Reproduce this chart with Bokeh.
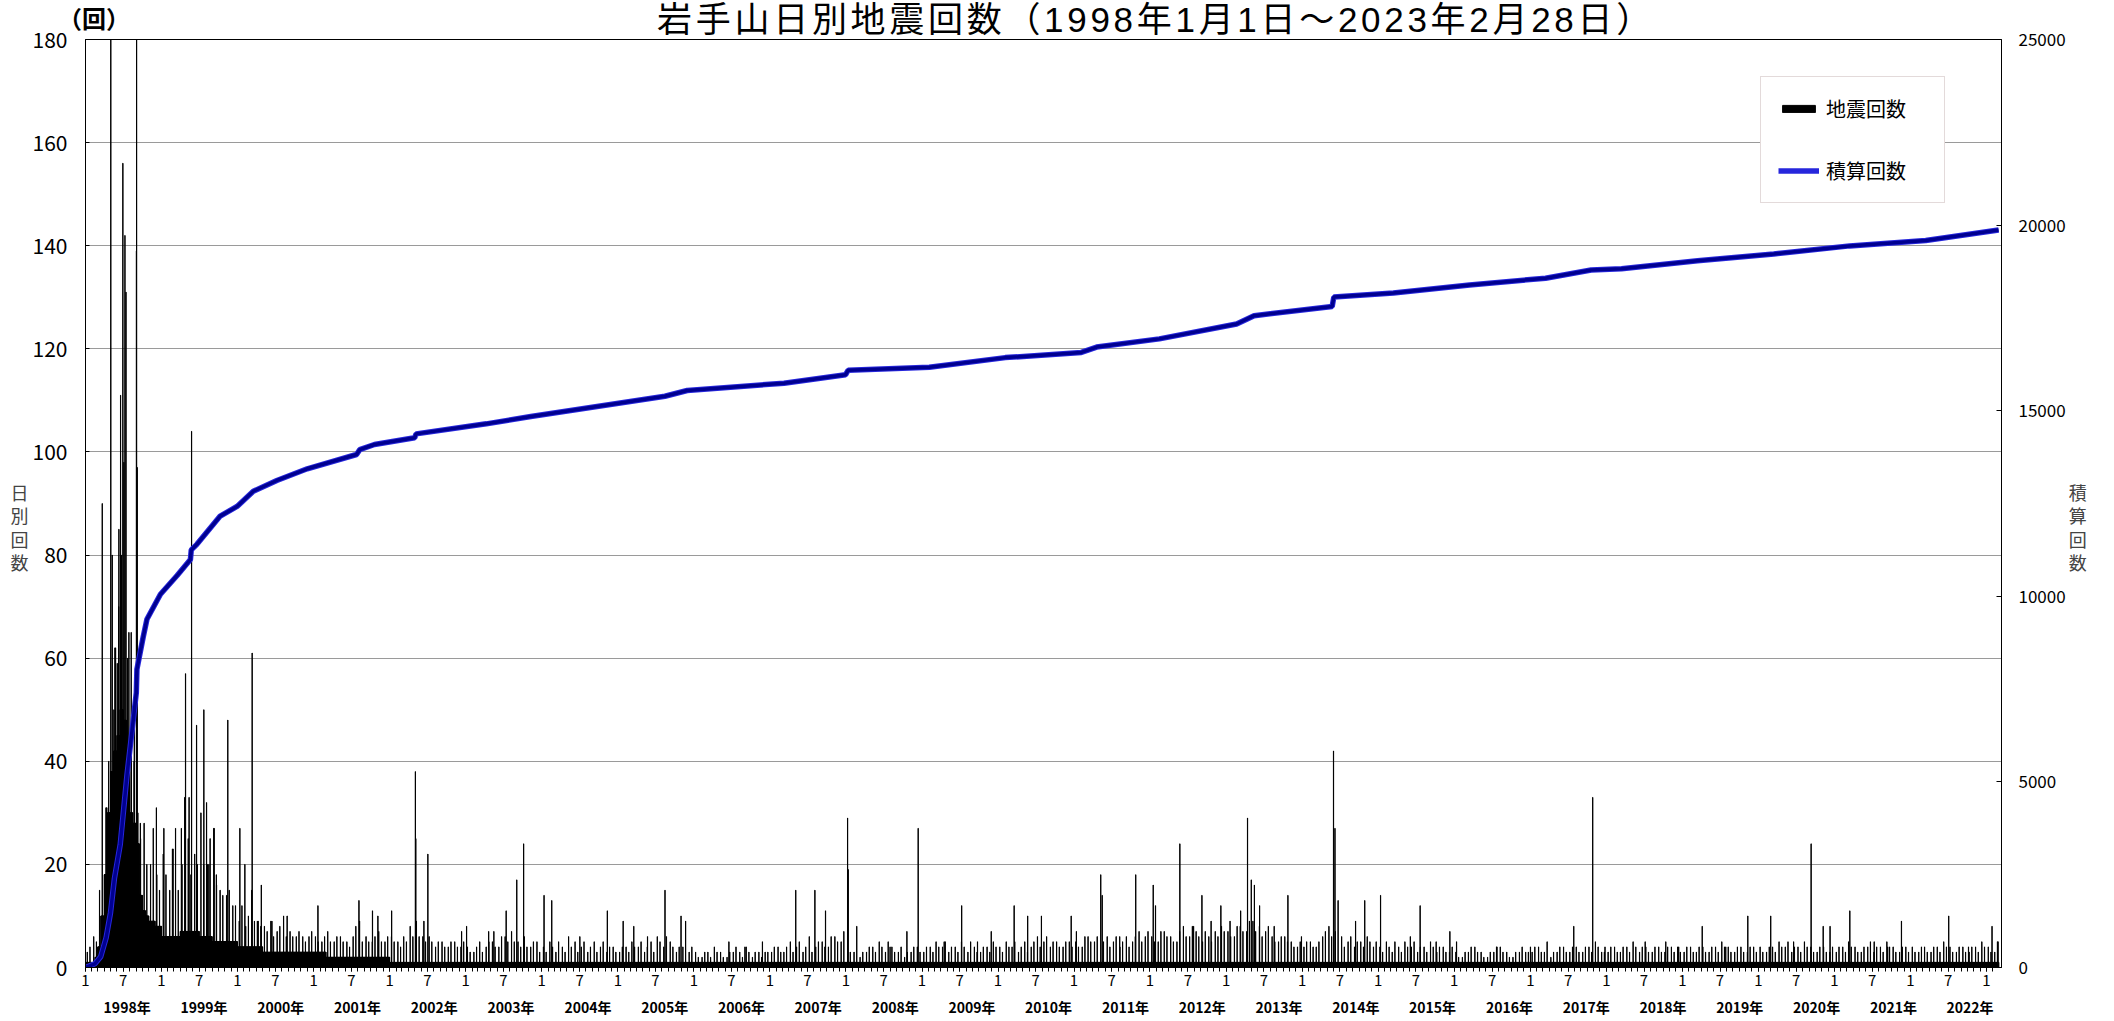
import numpy as np
import pandas as pd
from bokeh.plotting import figure
from bokeh.layouts import column
from bokeh.models import (Range1d, LinearAxis, FixedTicker, Legend, LegendItem, Div)
from bokeh.embed import file_html
from bokeh.resources import INLINE

FONT = "Noto Sans CJK JP"
START = "1998-01-01"
END = "2023-02-28"

title_text = "岩手山日別地震回数（1998年1月1日～2023年2月28日）"
unit_text = "（回）"
legend_labels = ["地震回数", "積算回数"]
left_axis_chars = ["日", "別", "回", "数"]
right_axis_chars = ["積", "算", "回", "数"]
left_ticks = [0, 20, 40, 60, 80, 100, 120, 140, 160, 180]
right_ticks = [0, 5000, 10000, 15000, 20000, 25000]
year_labels = [f"{y}年" for y in range(1998, 2023)]

# ---- daily counts: dense baseline level ----
# 1998 by half-month (1-15, 16-end)
base_1998_half = [1, 1, 1, 2, 4, 10, 18, 30, 38, 42, 45, 50,
                  48, 38, 30, 28, 24, 14, 11, 10, 9, 9, 8, 8]
base_1999 = [6, 6, 6, 7, 7, 7, 6, 6, 5, 5, 5, 5]
base_2000 = [4, 4, 4, 4, 3, 3, 3, 3, 3, 3, 3, 3]
base_2001 = [3, 3, 2, 2, 2, 2, 2, 2, 2, 2, 2, 2]
# 2002 .. 2023 : one level per year
base_late = [1] * 22

# smaller peaks within each month (early / late in the month)
minor_early = {
    1998: [3, 6, 15, 31, 55, 70, 65, 45, 30, 28, 20, 18],
    1999: [22, 15, 27, 20, 25, 22, 30, 20, 27, 15, 14, 12],
    2000: [9, 8, 15, 9, 8, 9, 7, 10, 7, 6, 6, 6],
    2001: [6, 5, 7, 5, 6, 5, 6, 9, 6, 5, 7, 5],
    2002: [6, 5, 6, 8, 9, 6, 6, 4, 5, 4, 5, 4],
    2003: [4, 3, 5, 4, 5, 4, 6, 7, 5, 6, 4, 5],
    2004: [4, 5, 3, 4, 6, 5, 4, 3, 5, 4, 3, 4],
    2005: [3, 4, 5, 4, 3, 5, 6, 4, 5, 3, 4, 3],
    2006: [3, 2, 3, 4, 3, 2, 3, 3, 4, 2, 3, 3],
    2007: [3, 4, 3, 5, 4, 3, 6, 4, 5, 4, 6, 5],
    2008: [4, 3, 2, 3, 4, 5, 3, 4, 3, 2, 3, 4],
    2009: [3, 4, 5, 4, 3, 4, 5, 3, 4, 3, 4, 5],
    2010: [4, 5, 4, 3, 5, 4, 6, 5, 4, 5, 4, 5],
    2011: [5, 4, 6, 5, 7, 6, 5, 4, 6, 5, 7, 6],
    2012: [6, 5, 7, 6, 5, 8, 6, 7, 5, 6, 7, 8],
    2013: [7, 6, 8, 7, 9, 8, 7, 6, 5, 6, 5, 4],
    2014: [4, 5, 4, 6, 8, 7, 6, 5, 4, 5, 6, 4],
    2015: [4, 5, 3, 4, 5, 4, 3, 4, 5, 3, 4, 3],
    2016: [3, 2, 3, 4, 3, 2, 3, 4, 3, 2, 3, 3],
    2017: [3, 4, 3, 2, 3, 4, 3, 4, 3, 4, 5, 3],
    2018: [3, 4, 3, 4, 5, 3, 4, 3, 4, 3, 4, 4],
    2019: [3, 4, 3, 4, 3, 4, 5, 4, 3, 4, 3, 4],
    2020: [4, 3, 4, 5, 4, 3, 4, 5, 4, 3, 4, 3],
    2021: [3, 4, 5, 4, 3, 4, 3, 4, 5, 4, 3, 4],
    2022: [4, 3, 4, 3, 4, 5, 4, 3, 4, 3, 4, 5],
    2023: [4, 3],
}
minor_late = {
    1998: [4, 5, 25, 40, 62, 80, 60, 40, 25, 20, 27, 15],
    1999: [18, 23, 15, 33, 18, 20, 20, 25, 16, 14, 15, 12],
    2000: [12, 10, 9, 8, 7, 6, 8, 6, 6, 7, 5, 7],
    2001: [5, 6, 5, 6, 5, 4, 8, 5, 5, 6, 5, 6],
    2002: [5, 4, 5, 6, 6, 5, 5, 5, 4, 5, 4, 5],
    2003: [3, 4, 3, 5, 4, 6, 5, 5, 4, 4, 5, 3],
    2004: [3, 4, 5, 3, 4, 3, 5, 4, 3, 5, 4, 3],
    2005: [4, 3, 4, 5, 4, 3, 5, 6, 4, 4, 3, 4],
    2006: [2, 3, 2, 3, 2, 3, 4, 2, 3, 3, 2, 3],
    2007: [4, 3, 4, 3, 5, 4, 3, 5, 4, 6, 5, 7],
    2008: [3, 2, 3, 4, 3, 4, 5, 3, 4, 3, 4, 3],
    2009: [4, 3, 4, 5, 4, 3, 4, 5, 3, 4, 3, 4],
    2010: [3, 4, 5, 4, 3, 5, 4, 6, 5, 4, 5, 4],
    2011: [4, 6, 5, 6, 5, 4, 6, 5, 4, 6, 5, 7],
    2012: [5, 7, 6, 5, 7, 6, 8, 6, 7, 5, 6, 7],
    2013: [6, 8, 7, 9, 7, 6, 8, 5, 6, 5, 4, 5],
    2014: [5, 4, 5, 7, 6, 5, 4, 6, 5, 4, 5, 5],
    2015: [3, 4, 5, 3, 4, 5, 4, 3, 4, 4, 3, 4],
    2016: [2, 3, 4, 3, 2, 3, 4, 3, 2, 3, 4, 3],
    2017: [4, 3, 2, 3, 4, 3, 4, 3, 4, 3, 4, 3],
    2018: [4, 3, 4, 3, 4, 4, 3, 4, 3, 4, 3, 3],
    2019: [4, 3, 4, 3, 4, 3, 4, 3, 4, 3, 4, 3],
    2020: [3, 4, 3, 4, 5, 4, 3, 4, 3, 4, 3, 4],
    2021: [4, 3, 4, 3, 4, 5, 4, 3, 4, 3, 4, 3],
    2022: [3, 4, 3, 4, 3, 4, 3, 4, 3, 4, 3, 4],
    2023: [3, 5],
}

# individual spikes: decimal year, count
spike_year = [
    1998.219, 1998.276, 1998.298, 1998.330, 1998.351, 1998.372, 1998.395, 1998.417,
    1998.438, 1998.460, 1998.490, 1998.504, 1998.517, 1998.530, 1998.570, 1998.600,
    1998.640, 1998.668, 1998.671, 1998.679, 1998.720, 1998.930,
    1999.030, 1999.150, 1999.260, 1999.315, 1999.360, 1999.394, 1999.460, 1999.556,
    1999.590, 1999.620, 1999.690, 1999.720, 1999.871, 2000.030, 2000.095, 2000.190,
    2000.260, 2000.310, 2000.450, 2000.650,
    2001.055, 2001.594, 2001.774, 2001.844,
    2002.024, 2002.338, 2002.342, 2002.450, 2002.500, 2002.945,
    2003.010, 2003.300, 2003.370, 2003.530, 2003.670, 2003.760, 2004.030, 2004.130,
    2004.500, 2004.860, 2005.070, 2005.210,
    2005.390, 2005.620, 2005.830, 2005.890,
    2006.460, 2006.670, 2006.900,
    2007.340, 2007.590, 2007.730, 2008.020, 2008.030, 2008.140,
    2008.580, 2008.800, 2008.950, 2009.290,
    2009.520, 2009.730, 2009.910,
    2010.210, 2010.390, 2010.570, 2010.960, 2011.030,
    2011.350, 2011.370, 2011.600, 2011.810, 2012.040, 2012.070,
    2012.390, 2012.570, 2012.680, 2012.800, 2012.930, 2013.050, 2013.190,
    2013.280, 2013.330, 2013.370, 2013.440, 2013.630, 2013.810, 2013.990,
    2014.410, 2014.430, 2014.470, 2014.700, 2014.820, 2015.030, 2015.420,
    2015.550, 2015.760, 2015.940, 2016.030,
    2016.560, 2017.000, 2017.220,
    2017.570, 2017.820, 2017.980,
    2018.510, 2018.780, 2018.950, 2019.260,
    2019.570, 2019.860, 2020.160,
    2020.460, 2020.690, 2020.850, 2020.940,
    2021.200, 2021.520, 2021.700, 2021.880,
    2022.500, 2022.760, 2023.070, 2023.150,
]
spike_count = [
    90, 31, 31, 200, 80, 50, 62, 59,
    85, 111, 156, 98, 142, 131, 65, 65,
    48, 139, 250, 97, 28, 31,
    27, 23, 27, 57, 33, 104, 47, 50,
    32, 20, 27, 18, 48, 27, 20, 61,
    9, 16, 9, 10,
    12, 13, 11, 10,
    11, 38, 25, 9, 22, 7,
    8, 7, 7, 11, 17, 24, 14, 13,
    6, 11, 9, 8,
    6, 15, 10, 9,
    5, 4, 5,
    15, 15, 11, 29, 19, 8,
    4, 7, 27, 5,
    12, 5, 7,
    12, 10, 10, 10, 7,
    18, 14, 6, 18, 16, 12,
    24, 8, 14, 9, 12, 9, 11,
    29, 17, 16, 12, 8, 14, 6,
    42, 27, 13, 9, 13, 14, 6,
    12, 5, 7, 5,
    4, 4, 5,
    8, 33, 4,
    5, 5, 4, 8,
    4, 10, 10,
    5, 24, 8, 8,
    11, 5, 4, 9,
    10, 4, 8, 5,
]

# cumulative count (right axis), read at points along the curve
cum_dates = [
    "1998-01-01", "1998-02-15", "1998-03-15", "1998-04-10", "1998-05-01", "1998-05-20",
    "1998-06-17", "1998-07-19", "1998-08-15", "1998-09-02", "1998-09-05", "1998-10-05",
    "1998-10-23", "1998-12-27", "1999-03-17", "1999-05-20", "1999-05-24", "1999-06-20",
    "1999-10-10", "1999-12-30", "2000-03-17", "2000-07-08", "2000-12-01", "2001-07-26",
    "2001-08-10", "2001-10-20", "2002-05-01", "2002-05-08", "2003-04-10", "2003-11-10",
    "2005-08-15", "2005-11-30", "2007-03-10", "2007-12-31", "2008-01-12", "2009-02-05",
    "2010-02-05", "2011-02-05", "2011-04-20", "2012-02-15", "2013-02-20", "2013-05-15",
    "2014-05-25", "2014-06-02", "2015-03-15", "2016-03-15", "2017-03-15", "2017-10-20",
    "2018-03-15", "2019-03-15", "2020-03-15", "2021-03-15", "2022-03-15", "2023-02-28",
]
cum_values = [
    0, 100, 290, 800, 1470, 2400,
    3320, 5170, 6500, 7400, 8035, 8900,
    9380, 10055, 10560, 10990, 11250, 11400,
    12160, 12420, 12830, 13120, 13435, 13820,
    13950, 14090, 14270, 14376, 14646, 14843,
    15390, 15544, 15741, 15970, 16090, 16173,
    16430, 16570, 16715, 16935, 17335, 17560,
    17806, 18060, 18170, 18387, 18570, 18790,
    18823, 19040, 19222, 19440, 19585, 19870,
]

# ---------------- build daily series ----------------
t0 = pd.Timestamp(START)
days = pd.date_range(START, END, freq="D")
n = len(days)
xd = np.asarray((days - t0).days, dtype=float)
counts = np.zeros(n)
ys, ms, ds = days.year.values, days.month.values, days.day.values
base_monthly = {1999: base_1999, 2000: base_2000, 2001: base_2001}
for i in range(n):
    y, m, d = ys[i], ms[i], ds[i]
    if y == 1998:
        counts[i] = base_1998_half[(m - 1) * 2 + (0 if d <= 15 else 1)]
    elif y in base_monthly:
        counts[i] = base_monthly[y][m - 1]
    else:
        counts[i] = base_late[y - 2002]


def day_index(y, m, d):
    return int((pd.Timestamp(year=y, month=m, day=d) - t0).days)


for y, vals in minor_early.items():
    for k, v in enumerate(vals):
        j = day_index(y, k + 1, 9)
        if 0 <= j < n:
            counts[j] = max(counts[j], v)
for y, vals in minor_late.items():
    for k, v in enumerate(vals):
        j = day_index(y, k + 1, 22)
        if 0 <= j < n:
            counts[j] = max(counts[j], v)
for yr, v in zip(spike_year, spike_count):
    j = int(round((yr - 1998.0) * 365.25))
    if 0 <= j < n:
        counts[j] = max(counts[j], v)

cx = np.asarray((pd.to_datetime(cum_dates) - t0).days, dtype=float)
cy = np.asarray(cum_values, dtype=float)

# ---------------- header (title + unit) ----------------
PAGE_W = 2114
HEAD_H = 39          # header band above the plot frame
OVERLAP = 15         # plot's top border slides under the header by this much
head_html = (
    f'<div style="position:relative;width:{PAGE_W}px;height:{HEAD_H}px;overflow:visible;">'
    f'<div style="position:absolute;z-index:10;left:10px;top:0px;width:2292px;text-align:center;'
    f'font-family:\'Liberation Sans\',\'{FONT}\';font-size:35px;line-height:39px;'
    f'letter-spacing:3.7px;white-space:nowrap;color:#000;">'
    f'{title_text}</div>'
    f'<div style="position:absolute;z-index:10;left:58px;top:5px;font-family:\'{FONT}\';'
    f'font-size:24px;font-weight:bold;line-height:26px;white-space:nowrap;color:#000;">'
    f'{unit_text}</div>'
    f'</div>'
)
head = Div(text=head_html, width=PAGE_W, height=HEAD_H, margin=0,
           styles={"overflow": "visible", "z-index": "10"})

# ---------------- figure ----------------
p = figure(frame_width=1916, frame_height=928, output_backend="svg", toolbar_location=None,
           x_range=Range1d(0, 9203), y_range=Range1d(0, 180),
           min_border_left=85, min_border_right=113,
           min_border_top=OVERLAP, min_border_bottom=0, margin=(-OVERLAP, 0, 0, 0))
p.background_fill_color = "white"
p.border_fill_color = "white"
p.border_fill_alpha = 0.0
p.outline_line_color = "black"
p.outline_line_width = 1
p.extra_y_ranges = {"cum": Range1d(0, 25000)}

p.xgrid.visible = False
p.ygrid.ticker = FixedTicker(ticks=left_ticks)
p.ygrid.grid_line_color = "#9a9a9a"
p.ygrid.grid_line_width = 1

bars = p.vbar(x=xd + 0.5, top=counts, bottom=0, width=1.0,
              fill_color="black", line_color="black", line_width=1)

cum_outer = p.line(cx, cy, y_range_name="cum", line_color="#2626dc", line_width=5.5)
p.line(cx, cy, y_range_name="cum", line_color="#000090", line_width=3.5)

# left axis
la = p.yaxis[0]
la.ticker = FixedTicker(ticks=left_ticks)
la.major_label_text_font = FONT
la.major_label_text_font_size = "21px"
la.major_label_text_color = "black"
la.major_tick_in = 4
la.major_tick_out = 0
la.minor_tick_line_color = None
la.major_label_standoff = 18
la.axis_line_color = "black"
la.axis_label = "\n".join(["\u3000", "\u3000"] + left_axis_chars)
la.axis_label_orientation = "horizontal"
la.axis_label_text_font = FONT
la.axis_label_text_font_size = "18px"
la.axis_label_text_font_style = "normal"
la.axis_label_text_line_height = 0.9
la.axis_label_standoff = 1

# right axis
ra = LinearAxis(y_range_name="cum", ticker=FixedTicker(ticks=right_ticks))
ra.major_label_text_font = FONT
ra.major_label_text_font_size = "17px"
ra.major_label_text_color = "black"
ra.major_tick_in = 5
ra.major_tick_out = 0
ra.minor_tick_line_color = None
ra.major_label_standoff = 17
ra.axis_line_color = "black"
ra.axis_label = "\n".join(["\u3000", "\u3000"] + right_axis_chars)
ra.axis_label_orientation = "horizontal"
ra.axis_label_text_font = FONT
ra.axis_label_text_font_size = "18px"
ra.axis_label_text_font_style = "normal"
ra.axis_label_text_line_height = 0.9
ra.axis_label_standoff = 0
p.add_layout(ra, "right")

# bottom axis: months
major_x, minor_x, overrides = [], [], {}
for y in range(1998, 2024):
    for m in range(1, 13):
        ts = pd.Timestamp(year=y, month=m, day=1)
        if ts > pd.Timestamp(END):
            break
        dd = int((ts - t0).days)
        minor_x.append(dd)
        if m in (1, 7):
            major_x.append(dd)
            overrides[dd] = "1" if m == 1 else "7"
xa = p.xaxis[0]
xa.ticker = FixedTicker(ticks=major_x, minor_ticks=minor_x)
xa.major_label_overrides = overrides
xa.major_label_text_font = FONT
xa.major_label_text_font_size = "15px"
xa.major_label_text_color = "black"
xa.major_tick_in = 0
xa.major_tick_out = 4
xa.minor_tick_in = 0
xa.minor_tick_out = 4
xa.major_label_standoff = 3
xa.axis_line_color = "black"

# second bottom axis: year labels
year_x = [int(round((pd.Timestamp(year=1998 + i, month=7, day=1) - t0).days + 19 + 3.6 * i))
          for i in range(len(year_labels))]
ya = LinearAxis(ticker=FixedTicker(ticks=year_x, minor_ticks=[]),
                major_label_overrides={k: v for k, v in zip(year_x, year_labels)})
ya.axis_line_color = None
ya.major_tick_line_color = None
ya.minor_tick_line_color = None
ya.major_tick_out = 0
ya.major_tick_in = 0
ya.major_label_standoff = 8
ya.major_label_text_font = FONT
ya.major_label_text_font_size = "14px"
ya.major_label_text_font_style = "bold"
ya.major_label_text_color = "black"
p.add_layout(ya, "below")

# legend
legend = Legend(items=[LegendItem(label=legend_labels[0], renderers=[bars]),
                       LegendItem(label=legend_labels[1], renderers=[cum_outer])],
                location=(1675, 764), orientation="vertical",
                padding=17, spacing=33, margin=0,
                glyph_width=41, glyph_height=9, label_standoff=7,
                label_height=27, label_width=101,
                label_text_font=FONT, label_text_font_size="20px",
                label_text_color="black",
                border_line_color="#c8b6b6", border_line_width=1,
                background_fill_color="white", background_fill_alpha=1.0)
p.add_layout(legend)

layout = column(head, p, spacing=0, margin=0)
open("out.html", "w").write(file_html(layout, INLINE))
